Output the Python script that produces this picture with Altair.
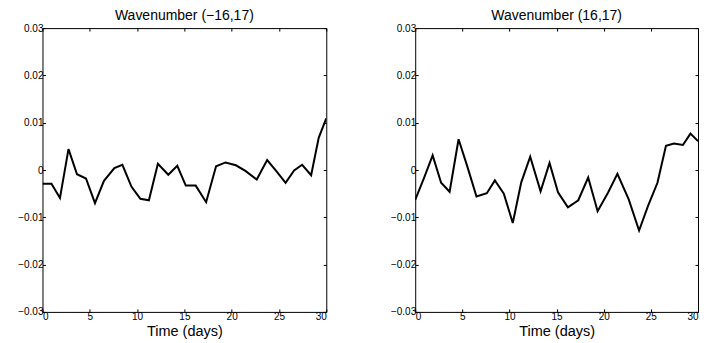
import altair as alt
import pandas as pd

days = [0, 0.95, 1.85, 2.75, 3.65, 4.6, 5.55, 6.5, 7.6, 8.45, 9.4, 10.35, 11.25, 12.2,
        13.3, 14.25, 15.15, 16.2, 17.3, 18.35, 19.35, 20.45, 21.45, 22.65, 23.75, 24.7,
        25.7, 26.6, 27.45, 28.4, 29.2, 30]
left_vals = [-0.0029, -0.0029, -0.0059, 0.0044, -0.0009, -0.0018, -0.0070, -0.0023,
             0.0004, 0.0011, -0.0035, -0.0061, -0.0064, 0.0013, -0.0010, 0.0009,
             -0.0033, -0.0033, -0.0068, 0.0008, 0.0016, 0.0010, -0.0002, -0.0020,
             0.0021, -0.0002, -0.0027, -0.0001, 0.0011, -0.0011, 0.0068, 0.0109]
right_vals = [-0.0063, -0.0016, 0.0031, -0.0027, -0.0046, 0.0065, 0.0006, -0.0056,
              -0.0049, -0.0022, -0.0050, -0.0112, -0.0026, 0.0028, -0.0045, 0.0015,
              -0.0047, -0.0079, -0.0064, -0.0016, -0.0087, -0.0048, -0.0008, -0.0062,
              -0.0128, -0.0076, -0.0027, 0.0051, 0.0056, 0.0053, 0.0077, 0.0061]
titles = ["Wavenumber (\u221216,17)", "Wavenumber (16,17)"]
x_ticks = [0, 5, 10, 15, 20, 25, 30]
y_ticks = [-0.03, -0.02, -0.01, 0, 0.01, 0.02, 0.03]

FONT = "Liberation Sans"
INWARD = {"expr": "-3"}


def panel(vals, title, width):
    df = pd.DataFrame({"t": days, "v": vals})
    xs = alt.Scale(domain=[0, 30], nice=False)
    ys = alt.Scale(domain=[-0.03, 0.03], nice=False)
    line = alt.Chart(df).mark_line(color="black", strokeWidth=2, clip=True).encode(
        x=alt.X("t:Q", scale=xs, axis=alt.Axis(
            values=x_ticks, orient="bottom", title="Time (days)", domain=False,
            tickSize=INWARD, tickColor="black", labelPadding=3, labelFontSize=10,
            labelFont=FONT, labelColor="black", titleFont=FONT, titleFontSize=14.5,
            titleFontWeight="normal", titleColor="black", titlePadding=2.5, grid=False)),
        y=alt.Y("v:Q", scale=ys, axis=alt.Axis(
            values=y_ticks, orient="left", title=None, domain=False,
            tickSize=INWARD, tickColor="black", labelPadding=2.5, labelFontSize=10,
            labelFont=FONT, labelColor="black", grid=False,
            labelExpr="datum.value == 0 ? '0' : format(datum.value, '.2f')")),
    )
    frame = alt.Chart(df).mark_line(strokeOpacity=0).encode(
        x=alt.X("t:Q", scale=xs, axis=alt.Axis(
            values=x_ticks, orient="top", title=None, labels=False, domain=False,
            tickSize=INWARD, tickColor="black", grid=False)),
        y=alt.Y("v:Q", scale=ys, axis=alt.Axis(
            values=y_ticks, orient="right", title=None, labels=False, domain=False,
            tickSize=INWARD, tickColor="black", grid=False)),
    )
    return alt.layer(line, frame).properties(
        width=width, height=284,
        title=alt.TitleParams(title, font=FONT, fontSize=14, fontWeight="normal",
                              color="black", offset=0.5),
    )


chart = alt.hconcat(
    panel(left_vals, titles[0], 284),
    panel(right_vals, titles[1], 283),
    spacing=89, bounds="flush",
).properties(
    padding={"left": 8.5, "top": 0, "right": 0, "bottom": 0},
).configure_view(stroke="black", strokeWidth=1)

chart.save("out.html", embed_options={"renderer": "svg", "actions": False})
